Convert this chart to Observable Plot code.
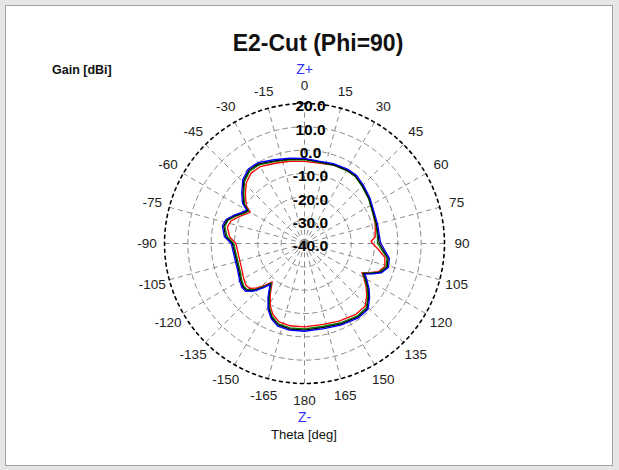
<!DOCTYPE html>
<html><head><meta charset="utf-8">
<script src="https://cdn.jsdelivr.net/npm/d3@7"></script>
<script src="https://cdn.jsdelivr.net/npm/@observablehq/plot@0.6"></script>
<style>
body{margin:0;background:#fff;}
#wrap{position:relative;width:619px;height:470px;overflow:hidden;font-family:"Liberation Sans",Arial,sans-serif;background:#e6e6e6;}
#frame{position:absolute;left:5px;top:5px;width:606px;height:459px;border:1px solid #a0a0a0;background:#fff;}
#chart{position:absolute;left:0;top:0;}
.t{position:absolute;white-space:nowrap;color:#111;}
#title{left:168px;width:300px;text-align:center;top:30px;font-size:23px;font-weight:bold;}
#gain{left:52px;top:63px;font-size:12.5px;font-weight:bold;}
#theta{left:254px;width:100px;text-align:center;top:427px;font-size:13px;}
</style></head>
<body>
<div id="wrap">
<div id="frame"></div>
<div id="chart"></div>
<div class="t" id="title">E2-Cut (Phi=90)</div>
<div class="t" id="gain">Gain [dBi]</div>
<div class="t" id="theta">Theta [deg]</div>
</div>
<script>
// Theta angles (deg, clockwise from Z+)
const thetaDeg = [-180,-170,-162,-156,-151,-146,-140,-137,-133,-129,
  -125,-120,-112,-101,-90,-85,-78,-73,-68,-64,
  -60,-57,-51,-44,-37,-30,-20,-10,0,10,
  20,30,37,45,55,65,75,85,88,90,
  95,100,106,111,114,117,120,125,130,136,
  144,156,167,180];
const gainBlue = [-2.4,-2.3,-2.8,-4.8,-7.8,-12.0,-17.0,-14.0,-10.0,-7.5,
  -7.2,-7.9,-9.1,-9.4,-8.6,-5.5,-4.0,-4.8,-7.5,-9.8,
  -11.4,-8.3,-5.4,-1.9,0.0,0.0,-1.8,-2.9,-3.5,-4.2,
  -3.6,-3.2,-3.2,-4.4,-5.8,-7.2,-7.6,-7.7,-7.5,-7.2,
  -5.4,-3.0,-2.6,-4.8,-8.0,-11.0,-9.2,-6.2,-3.6,-0.8,
  -0.6,-1.7,-2.6,-2.4];
const gainBlack = [-2.9,-2.8,-3.3,-5.3,-8.3,-12.5,-17.4,-14.5,-10.5,-8.0,
  -7.7,-8.4,-9.6,-9.9,-9.1,-6.1,-4.6,-5.3,-8.0,-10.3,
  -11.9,-8.9,-6.0,-2.5,-0.6,-0.6,-2.3,-3.3,-3.8,-4.5,
  -4.0,-3.6,-3.7,-4.9,-6.2,-7.6,-8.0,-8.2,-8.1,-7.9,
  -6.1,-3.6,-3.1,-5.3,-8.5,-11.5,-9.7,-6.7,-4.1,-1.3,
  -1.1,-2.2,-3.1,-2.9];
const gainGreen = [-3.4,-3.3,-3.8,-5.8,-8.8,-13.0,-17.9,-15.0,-11.0,-8.5,
  -8.2,-8.9,-10.1,-10.4,-9.6,-6.7,-5.1,-5.8,-8.5,-10.8,
  -12.3,-9.4,-6.5,-3.0,-1.1,-1.1,-2.7,-3.6,-4.0,-4.7,
  -4.2,-3.9,-4.0,-5.2,-6.5,-7.9,-8.3,-8.6,-8.7,-8.7,
  -6.7,-4.1,-3.6,-5.8,-9.0,-12.0,-10.2,-7.2,-4.6,-1.8,
  -1.6,-2.7,-3.6,-3.4];
const gainRed = [-4.3,-4.2,-4.7,-6.7,-9.7,-13.8,-18.5,-15.8,-11.9,-9.5,
  -9.2,-9.9,-11.0,-11.3,-10.6,-7.8,-6.2,-7.0,-9.5,-11.6,
  -13.2,-10.3,-7.4,-4.0,-2.1,-2.0,-3.4,-4.2,-4.8,-5.0,
  -4.2,-3.8,-3.8,-5.0,-6.3,-7.8,-8.6,-9.6,-11.5,-10.8,
  -8.0,-5.0,-4.2,-6.2,-9.4,-12.4,-10.6,-7.8,-5.2,-2.6,
  -2.5,-3.6,-4.4,-4.3];
const seriesNames = ["red","green","black","blue"];
const seriesColors = ["#ff0000","#00a000","#000000","#0000ff"];
const ringValues = [-30,-20,-10,0,10];
const outerRing = 20;
const radialMin = -40;
const radialLabelValues = [20,10,0,-10,-20,-30,-40];
const radialLabels = ["20.0","10.0","0.0","-10.0","-20.0","-30.0","-40.0"];
const angleTicks = [0,15,30,45,60,75,90,105,120,135,150,165,180,-165,-150,-135,-120,-105,-90,-75,-60,-45,-30,-15];
const axisEnds = [{a:0,label:"Z+"},{a:180,label:"Z-"}];

const rad = d => d*Math.PI/180;
const R = g => g - radialMin;
const px = (g,a) => R(g)*Math.sin(rad(a));
const py = (g,a) => R(g)*Math.cos(rad(a));
const Rmax = R(outerRing);

const seriesArrays = [gainRed, gainGreen, gainBlack, gainBlue];
const curves = [];
seriesArrays.forEach((arr,i) => arr.forEach((g,j) => curves.push({s:seriesNames[i], x:px(g,thetaDeg[j]), y:py(g,thetaDeg[j])})));

const circlePts = v => d3.range(0,361,2).map(a => ({v, x:px(v,a), y:py(v,a)}));
const rings = ringValues.flatMap(circlePts);
const outer = circlePts(outerRing);
const spokes = angleTicks.map(a => ({x1:0,y1:0,x2:Rmax*Math.sin(rad(a)),y2:Rmax*Math.cos(rad(a))}));
const labelR = 67.5;
const angleLbl = angleTicks.map(a => ({t:String(a), x:labelR*Math.sin(rad(a)), y:labelR*Math.cos(rad(a))}));
const zR = 74.6;
const zLbl = axisEnds.map(d => ({t:d.label, x:zR*Math.sin(rad(d.a)), y:zR*Math.cos(rad(d.a))}));
const radLbl = radialLabelValues.map((v,i) => ({t:radialLabels[i], x:0, y:R(v)}));

const chart = Plot.plot({
  width:619, height:470,
  marginLeft:164, marginRight:175, marginTop:103, marginBottom:87,
  x:{domain:[-60,60], axis:null},
  y:{domain:[-60,60], axis:null},
  style:{background:"transparent", overflow:"visible", fontFamily:"Liberation Sans, Arial, sans-serif"},
  marks:[
    Plot.line(rings, {x:"x", y:"y", z:"v", stroke:"#8a8a8a", strokeWidth:1, strokeDasharray:"5,4"}),
    Plot.link(spokes, {x1:"x1", y1:"y1", x2:"x2", y2:"y2", stroke:"#8a8a8a", strokeWidth:1, strokeDasharray:"5,4"}),
    Plot.line(outer, {x:"x", y:"y", stroke:"#000", strokeWidth:1.6, strokeDasharray:"3,4"}),
    Plot.text(radLbl, {x:"x", y:"y", text:"t", dx:6, dy:3, fontSize:15.5, fontWeight:"bold", fill:"#000"}),
    Plot.line(curves, {x:"x", y:"y", z:"s", stroke:"s", strokeWidth:1.3, curve:"linear"}),
    Plot.text(angleLbl, {x:"x", y:"y", text:"t", fontSize:13.5, fill:"#222"}),
    Plot.text(zLbl, {x:"x", y:"y", text:"t", fontSize:14, fill:"#3030ff"})
  ],
  color:{domain:seriesNames, range:seriesColors}
});
document.getElementById("chart").appendChild(chart);
</script>
</body></html>
